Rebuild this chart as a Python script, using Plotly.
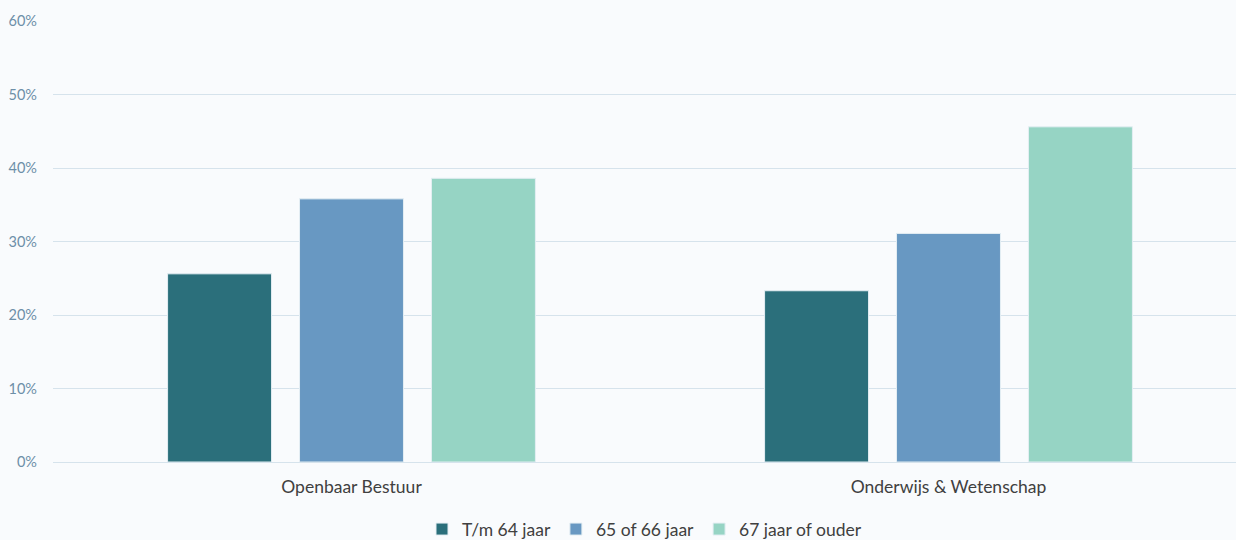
import plotly.graph_objects as go

categories = ["Openbaar Bestuur", "Onderwijs & Wetenschap"]
series_names = ["T/m 64 jaar", "65 of 66 jaar", "67 jaar of ouder"]
tm64 = [25.6, 23.3]
j65_66 = [35.8, 31.1]
j67plus = [38.6, 45.6]
y_ticks = [0, 10, 20, 30, 40, 50, 60]
y_tick_labels = ["0%", "10%", "20%", "30%", "40%", "50%", "60%"]

colors = ["#2B6F7B", "#6898C2", "#96D4C4"]
values = [tm64, j65_66, j67plus]

fig = go.Figure()
for name, vals, col in zip(series_names, values, colors):
    fig.add_trace(go.Bar(
        x=categories, y=vals, name=name,
        marker=dict(color=col, line=dict(color="#E4EEF3", width=1)),
        hoverinfo="skip",
    ))

W, H = 1236, 540
left, top, bottom = 53, 21, 78
plot_w = W - left
cat_span = 597  # pixels per category band
fig.update_layout(
    width=W, height=H,
    margin=dict(l=left, r=0, t=top, b=bottom),
    paper_bgcolor="#F9FBFD", plot_bgcolor="#F9FBFD",
    barmode="group", bargap=0.337, bargroupgap=0.212,
    font=dict(family="Lato, 'Open Sans', sans-serif", color="#404040"),
    showlegend=True,
    legend=dict(orientation="h", x=0.5, xanchor="center",
                yref="container", y=0.02, yanchor="middle",
                font=dict(size=17.5, color="#404040"),
                itemwidth=30, traceorder="normal"),
    xaxis=dict(range=[-0.5, -0.5 + plot_w / cat_span], showgrid=False,
               showline=False, zeroline=False, ticks="",
               ticklabelstandoff=12,
               tickfont=dict(size=17.5, color="#404040")),
    yaxis=dict(range=[0, 60], tickmode="array", tickvals=y_ticks,
               ticktext=y_tick_labels,
               showgrid=True, gridcolor="#D6E3EC", gridwidth=1,
               zeroline=True, zerolinecolor="#D6E3EC", zerolinewidth=1,
               showline=False, ticks="", ticklabelstandoff=15,
               tickfont=dict(size=14.5, color="#6D8FA8")),
)

fig.write_html("out.html")
